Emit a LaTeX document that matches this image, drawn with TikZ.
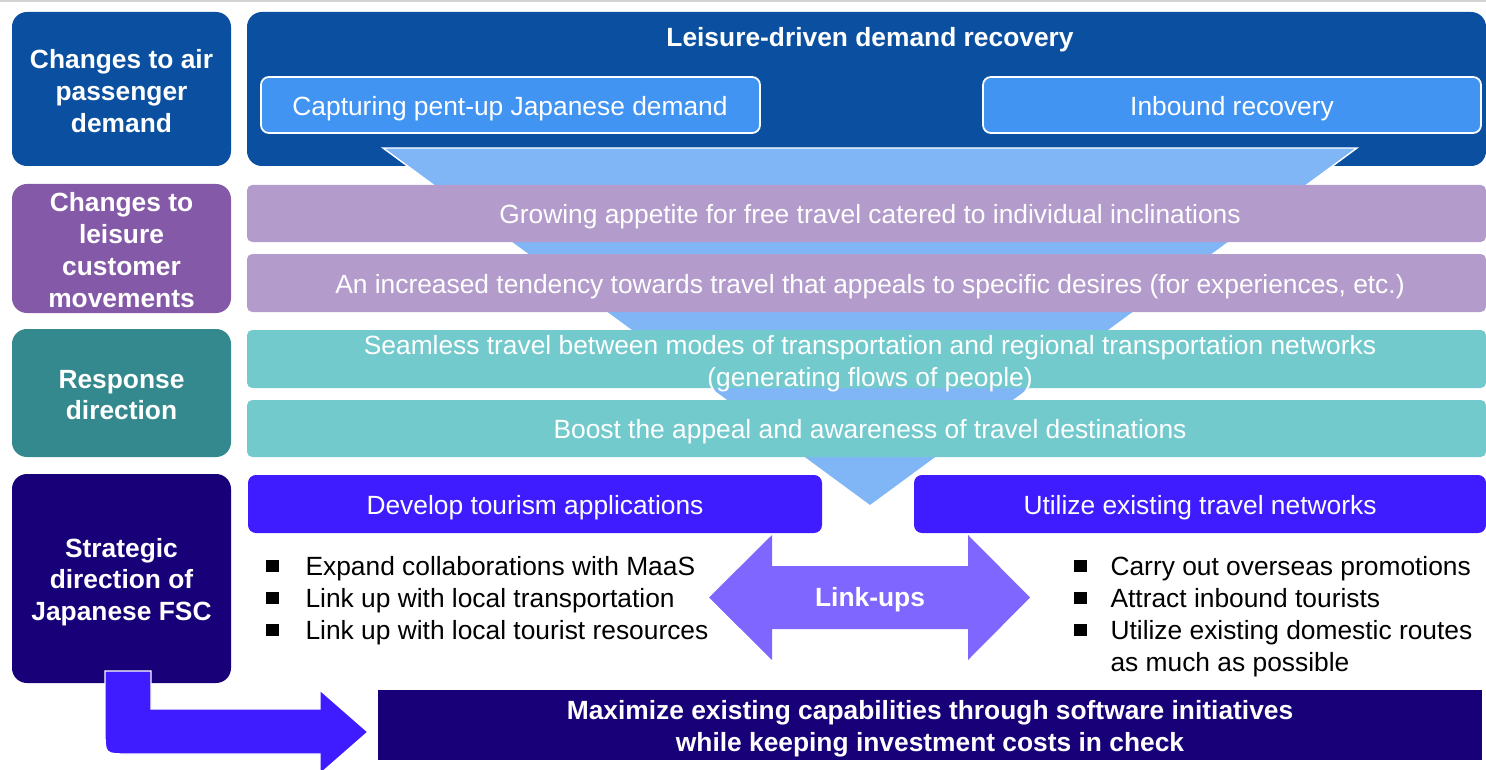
\documentclass[tikz,border=0pt]{standalone}
\usepackage{fontspec}
\setmainfont{Liberation Sans}
\usetikzlibrary{fit}
\definecolor{topblue}{HTML}{0B50A0}
\definecolor{subblue}{HTML}{4194F2}
\definecolor{funnelblue}{HTML}{80B6F6}
\definecolor{lavender}{HTML}{B39CCB}
\definecolor{purpleL}{HTML}{8459A8}
\definecolor{tealD}{HTML}{33898D}
\definecolor{tealL}{HTML}{73CACD}
\definecolor{violet}{HTML}{3E1CFF}
\definecolor{navy}{HTML}{170078}
\definecolor{linkviolet}{HTML}{7F66FF}
\tikzset{
  txt/.style={font=\fontsize{15}{18.1}\selectfont, text=white, align=center, inner sep=0pt},
  btxt/.style={font=\bfseries\fontsize{15}{18.1}\selectfont, text=white, align=center, inner sep=0pt},
  leftbox/.style={fill=#1, draw=none, rounded corners=8.5pt, inner sep=0pt},
  band/.style={fill=#1, draw=none, rounded corners=3pt, inner sep=0pt},
  subbox/.style={fill=subblue, draw=white, line width=1pt, rounded corners=4.5pt, inner sep=0pt},
  stratbox/.style={fill=violet, draw=none, rounded corners=4.5pt, inner sep=0pt},
  blist/.style={font=\fontsize{15}{18.1}\selectfont, text=black, inner sep=0pt, anchor=west},
}
\newcommand{\bsq}{\raisebox{1.9pt}{\rule{7pt}{7pt}}}
\begin{document}
\begin{tikzpicture}[x=0.02cm, y=-0.02cm]
\useasboundingbox (0,0) rectangle (1486,770);
\draw[gray!35, line width=0.8pt] (0,1) -- (1486,1);
% left column
\node[leftbox=topblue, fit={(12,12) (231,166)}] (l1) {};
\node[btxt] (l1t) at (121.5,91) {Changes to air\\passenger\\demand};
\node[leftbox=purpleL, fit={(12,184) (231,313)}] (l2) {};
\node[btxt] (l2t) at (121.5,250) {Changes to\\leisure\\customer\\movements};
\node[leftbox=tealD, fit={(12,329) (231,457)}] (l3) {};
\node[btxt] (l3t) at (121.5,395) {Response\\direction};
\node[leftbox=navy, fit={(12,474) (231,683)}] (l4) {};
\node[btxt] (l4t) at (121.5,582) {Strategic\\direction of\\Japanese FSC};
% top box
\node[leftbox=topblue, fit={(247,12) (1486,166)}] (top) {};
\node[btxt] (toptitle) at (870,40) {Leisure-driven demand recovery};
\node[subbox, fit={(261,77) (760,133)}] (s1) {};
\node[txt] (s1t) at (510,109) {Capturing pent-up Japanese demand};
\node[subbox, fit={(983,77) (1481,133)}] (s2) {};
\node[txt] (s2t) at (1232,109) {Inbound recovery};
% funnel
\path[fill=funnelblue, draw=white, line width=0.8pt] (383,148) -- (1357,148) -- (870,506) -- cycle;
% bands
\node[band=lavender, fit={(247,185) (1486,242)}] (b1) {};
\node[txt] (b1t) at (870,217) {Growing appetite for free travel catered to individual inclinations};
\node[band=lavender, fit={(247,254) (1486,312)}] (b2) {};
\node[txt] (b2t) at (870,287) {An increased tendency towards travel that appeals to specific desires (for experiences, etc.)};
\node[band=tealL, fit={(247,330) (1486,388)}] (b3) {};
\node[txt] (b3t) at (870,364) {Seamless travel between modes of transportation and regional transportation networks\\(generating flows of people)};
\node[band=tealL, fit={(247,400) (1486,457)}] (b4) {};
\node[txt] (b4t) at (870,432) {Boost the appeal and awareness of travel destinations};
% strategy boxes
\node[stratbox, fit={(248,475) (822,533)}] (st1) {};
\node[txt] (st1t) at (535,508) {Develop tourism applications};
\node[stratbox, fit={(914,475) (1486,533)}] (st2) {};
\node[txt] (st2t) at (1200,508) {Utilize existing travel networks};
% bullet lists
\node[blist] (listL) at (266,601) {\begin{tabular}{@{}l@{\hspace{15.3pt}}l@{}}
\bsq & Expand collaborations with MaaS\\
\bsq & Link up with local transportation\\
\bsq & Link up with local tourist resources
\end{tabular}};
\node[blist] (listR) at (1074,617) {\begin{tabular}{@{}l@{\hspace{13.6pt}}l@{}}
\bsq & Carry out overseas promotions\\
\bsq & Attract inbound tourists\\
\bsq & Utilize existing domestic routes\\
 & as much as possible
\end{tabular}};
% link-ups double arrow
\path[fill=linkviolet] (709,597.5) -- (772,535) -- (772,566) -- (968,566) -- (968,535) -- (1030,597.5)
  -- (968,660) -- (968,629) -- (772,629) -- (772,660) -- cycle;
\node[btxt] (link) at (870,600) {Link-ups};
% bent arrow
\path[fill=violet, draw=white, line width=0.8pt] (105,671) -- (151,671) -- (151,709) -- (320,709) -- (320,690) -- (368,732)
  -- (320,774) -- (320,754) -- (127,754) .. controls (105,754) .. (105,732) -- cycle;
% bottom box
\node[fill=navy, inner sep=0pt, fit={(378,690) (1482,760)}] (bottom) {};
\node[btxt] (bottomt) at (930,729) {Maximize existing capabilities through software initiatives\\while keeping investment costs in check};
\end{tikzpicture}
\end{document}
